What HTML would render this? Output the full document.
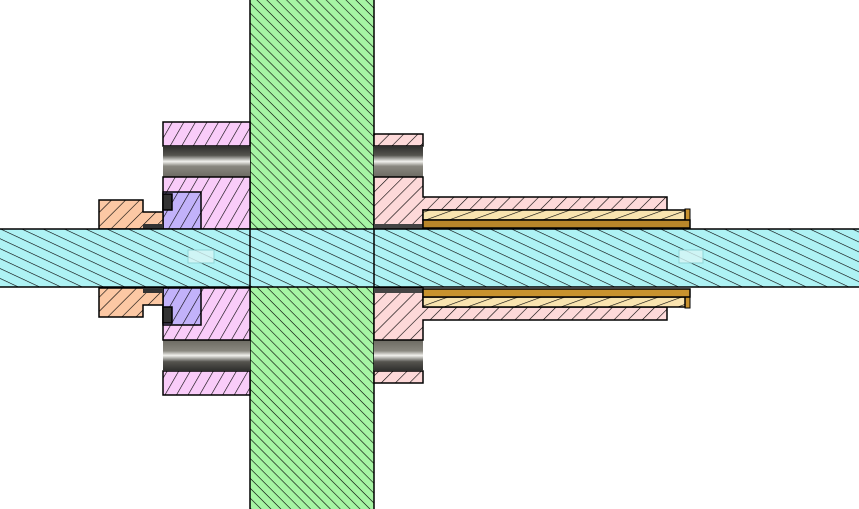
<!DOCTYPE html>
<html><head><style>html,body{margin:0;padding:0;background:#fff}svg{display:block}</style></head>
<body>
<svg width="859" height="509" viewBox="0 0 859 509" xmlns="http://www.w3.org/2000/svg">
<defs>
<pattern id="hg" patternUnits="userSpaceOnUse" width="7" height="7" patternTransform="rotate(45)"><rect width="7" height="7" fill="#a6f5a4"/><line x1="0" y1="0" x2="7" y2="0" stroke="#000" stroke-width="1.2"/></pattern>
<pattern id="hc" patternUnits="userSpaceOnUse" width="9" height="9" patternTransform="rotate(25)"><rect width="9" height="9" fill="#aef2f4"/><line x1="0" y1="0" x2="9" y2="0" stroke="#000" stroke-width="1.2"/></pattern>
<pattern id="hp" patternUnits="userSpaceOnUse" width="10" height="10" patternTransform="rotate(-60)"><rect width="10" height="10" fill="#f9ccf9"/><line x1="0" y1="0" x2="10" y2="0" stroke="#000" stroke-width="1.2"/></pattern>
<pattern id="hr" patternUnits="userSpaceOnUse" width="10" height="10" patternTransform="rotate(-45)"><rect width="10" height="10" fill="#fdd9d9"/><line x1="0" y1="0" x2="10" y2="0" stroke="#000" stroke-width="1.2"/></pattern>
<pattern id="hv" patternUnits="userSpaceOnUse" width="10" height="10" patternTransform="rotate(-60)"><rect width="10" height="10" fill="#c2b2fa"/><line x1="0" y1="0" x2="10" y2="0" stroke="#000" stroke-width="1.2"/></pattern>
<pattern id="ho" patternUnits="userSpaceOnUse" width="10" height="10" patternTransform="rotate(-45)"><rect width="10" height="10" fill="#fcc8a4"/><line x1="0" y1="0" x2="10" y2="0" stroke="#000" stroke-width="1.2"/></pattern>
<pattern id="ht" patternUnits="userSpaceOnUse" width="8" height="8" patternTransform="rotate(-20)"><rect width="8" height="8" fill="#f9e4b0"/><line x1="0" y1="0" x2="8" y2="0" stroke="#000" stroke-width="1.2"/></pattern>
<linearGradient id="bg" x1="0" y1="0" x2="0" y2="1">
<stop offset="0" stop-color="#2e2e2c"/><stop offset="0.3" stop-color="#55544f"/><stop offset="0.5" stop-color="#f2f2ee"/><stop offset="0.65" stop-color="#8a8880"/><stop offset="1" stop-color="#6c6a62"/></linearGradient>
<linearGradient id="bg2" x1="0" y1="1" x2="0" y2="0">
<stop offset="0" stop-color="#2e2e2c"/><stop offset="0.3" stop-color="#55544f"/><stop offset="0.5" stop-color="#f2f2ee"/><stop offset="0.65" stop-color="#8a8880"/><stop offset="1" stop-color="#6c6a62"/></linearGradient>
</defs>
<g stroke="#000" stroke-width="1.5">
<rect x="250" y="-2" width="124" height="513" fill="url(#hg)"/>
<rect x="163" y="122" width="87" height="24" fill="url(#hp)"/>
<rect x="163" y="146" width="87" height="31" fill="url(#bg)" stroke="none"/>
<rect x="163" y="177" width="87" height="52" fill="url(#hp)"/>
<rect x="163" y="192" width="38" height="37" fill="url(#hv)"/>
<rect x="163" y="194" width="9" height="16" fill="#333"/>
<path d="M99 200H143V212H163V229H99Z" fill="url(#ho)"/>
<rect x="143" y="224" width="20" height="5" fill="#333" stroke="none"/>
<rect x="163" y="371" width="87" height="24" fill="url(#hp)"/>
<rect x="163" y="340" width="87" height="31" fill="url(#bg2)" stroke="none"/>
<rect x="163" y="288" width="87" height="52" fill="url(#hp)"/>
<rect x="163" y="288" width="38" height="37" fill="url(#hv)"/>
<rect x="163" y="307" width="9" height="16" fill="#333"/>
<path d="M99 288H163V305H143V317H99Z" fill="url(#ho)"/>
<rect x="143" y="288" width="20" height="5" fill="#333" stroke="none"/>
<rect x="374" y="134" width="49" height="12" fill="url(#hr)"/>
<rect x="374" y="146" width="49" height="31" fill="url(#bg)" stroke="none"/>
<path d="M374 177H423V197H667V210H423V229H374Z" fill="url(#hr)"/>
<rect x="374" y="224" width="49" height="5" fill="#444" stroke="none"/>
<rect x="685" y="209" width="5" height="19" fill="#c8922e" stroke-width="1"/>
<rect x="423" y="210" width="262" height="10" fill="url(#ht)"/>
<rect x="423" y="220" width="267" height="8" fill="#b8862a"/>
<rect x="374" y="371" width="49" height="12" fill="url(#hr)"/>
<rect x="374" y="340" width="49" height="31" fill="url(#bg2)" stroke="none"/>
<path d="M374 288H423V307H667V320H423V340H374Z" fill="url(#hr)"/>
<rect x="374" y="288" width="49" height="5" fill="#444" stroke="none"/>
<rect x="685" y="289" width="5" height="19" fill="#c8922e" stroke-width="1"/>
<rect x="423" y="297" width="262" height="10" fill="url(#ht)"/>
<rect x="423" y="289" width="267" height="8" fill="#c8922e"/>
<rect x="-2" y="229" width="863" height="58" fill="url(#hc)"/>
<line x1="250" y1="229" x2="250" y2="287"/>
<line x1="374" y1="229" x2="374" y2="287"/>
</g>
<g fill="#d8f6f6" stroke="#8ccfd0" stroke-width="1" opacity="0.8">
<rect x="188" y="250" width="26" height="13"/>
<rect x="679" y="250" width="24" height="13"/>
</g>
</svg>
</body></html>
